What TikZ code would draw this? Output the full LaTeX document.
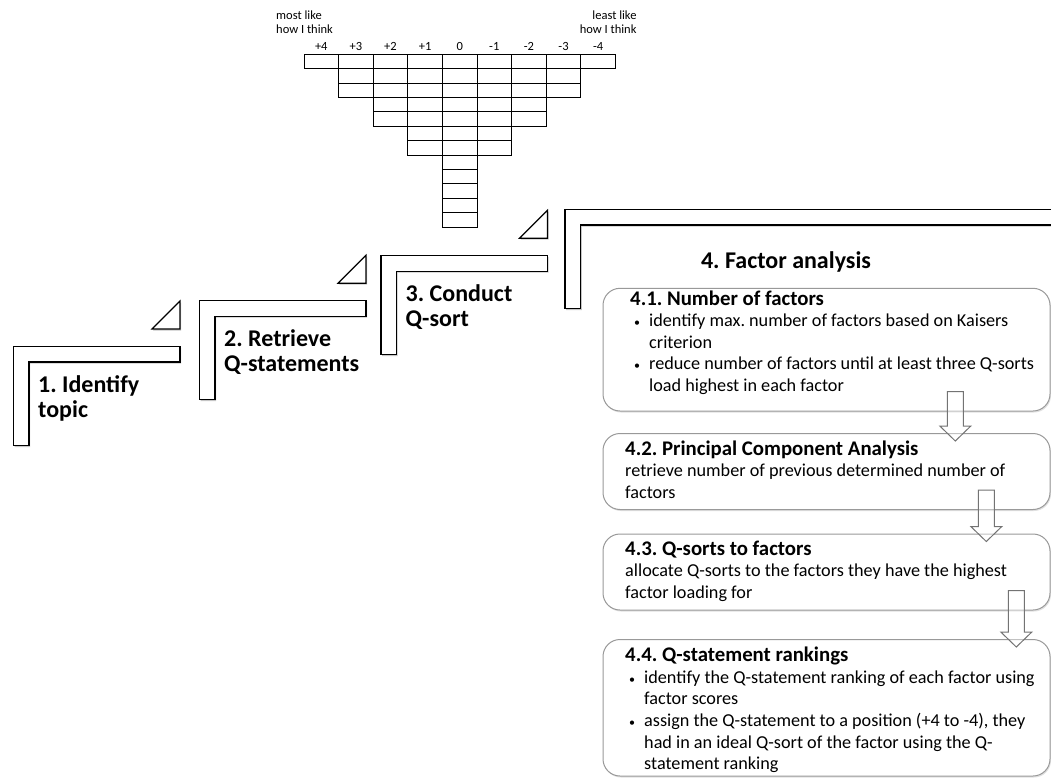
\documentclass[tikz,border=0pt]{standalone}
\usepackage{fontspec}
\setmainfont{Carlito}
\usepackage{tikz}
\usetikzlibrary{calc, fit, shadows}
\frenchspacing
\tikzset{
x=1pt, y=-1pt, % pixel-like units, y grows downwards
lshape/.style={draw, line width=1.2pt, fill=white, drop shadow={shadow xshift=1.2pt, shadow yshift=-1.5pt, fill=black!45, opacity=.5}}, % the stair steps
steptext/.style={anchor=base west, inner sep=0pt, text width=170pt, align=flush left, font=\fontsize{24}{25.5}\selectfont\bfseries}, % step labels
cell/.style={draw, line width=0.9pt}, % one slot of the Q-sort grid
sortlabel/.style={inner sep=0pt, font=\fontsize{12.5}{14}\selectfont}, % grid labels
qbox/.style={draw=black!40, line width=1pt, rounded corners=17pt, inner sep=0pt, fill=white, drop shadow={shadow xshift=1pt, shadow yshift=-1.5pt, fill=black!30, opacity=.4}}, % sub-step boxes
boxtext/.style={anchor=base west, inner sep=0pt, text width=440pt, align=flush left, font=\fontsize{18.2}{21.6}\selectfont}, % text inside the boxes
qarrow/.style={draw=black!55, line width=1pt, fill=white, fill opacity=.4}, % block arrows between boxes
}
\newcommand{\qtitle}[1]{{\fontsize{20.8}{21.6}\selectfont\bfseries #1}}
\newcommand{\qbullet}{\makebox[19pt][l]{\hspace{4pt}{\fontsize{12}{12}\selectfont\textbullet}}}
\newcommand{\qindent}{\hspace*{19pt}}
% block arrow: x position, from box, to box
\newcommand{\qarrowdraw}[3]{%
  \coordinate (ax) at (#1,0);
  \draw[qarrow] let \p1=($(#2.south -| ax)+(0,-20)$), \p2=($(#3.north -| ax)+(0,8)$) in
    (\x1-8pt,\y1) -- (\x1+8pt,\y1) -- (\x1+8pt,\y2+15pt) -- (\x1+15.5pt,\y2+15pt)
    -- (\x2,\y2) -- (\x1-15.5pt,\y2+15pt) -- (\x1-8pt,\y2+15pt) -- cycle;}

\begin{document}
\begin{tikzpicture}
    \clip (0,0) rectangle (1051,778);

    % Q-sort grid
    \node[sortlabel, anchor=base west, text width=70pt, align=flush left] (most) at (276,19.3) {most like\\how I think};
    \node[sortlabel, anchor=base east, text width=70pt, align=flush right] (least) at (636.7,19.3) {least like\\how I think};
    \foreach \c/\n/\lab in {0/1/+4, 1/3/+3, 2/5/+2, 3/7/+1, 4/12/0, 5/7/-1, 6/5/-2, 7/3/-3, 8/1/-4} {
        \node[sortlabel, anchor=base] (col\c) at (321.3+34.6*\c,51) {\lab};
        \foreach \r in {1,...,\n}
            \draw[cell] (304+34.6*\c,39.9+14.4*\r) rectangle ++(34.6,14.4);
    }

    % stairs
    \foreach \n/\x/\y/\txt in {1/13.5/346.5/{1. Identify\\topic}, 2/199.5/300.7/{2. Retrieve\\Q-statements}, 3/381/255.7/{3. Conduct\\Q-sort}} {
        \draw[lshape] (\x,\y) -- ++(166.5,0) -- ++(0,15.5) -- ++(-151,0) -- ++(0,83.5) -- ++(-15.5,0) -- cycle;
        \draw[lshape] (\x+138.5,\y-17.5) -- ++(28,0) -- ++(0,-28) -- cycle;
        \node[steptext] (step\n) at (\x+24.5,\y+45.5) {\txt};
    }
    \draw[lshape] (565,209.3) -- (1070,209.3) -- (1070,225) -- (580.7,225) -- (580.7,308.5) -- (565,308.5) -- cycle;
    \node[inner sep=0pt, anchor=base, font=\fontsize{24}{25.5}\selectfont\bfseries] (step4) at (786,268) {4. Factor analysis};

    % sub-steps of the factor analysis
    \node[qbox, fit={(603,288.3) (1050,411)}] (b41) {};
    \node[qbox, fit={(603,433.5) (1050,509.5)}] (b42) {};
    \node[qbox, fit={(603,534) (1050,610)}] (b43) {};
    \node[qbox, fit={(603,639.5) (1050,776)}] (b44) {};

    \node[boxtext] (t41) at (630,305) {\qtitle{4.1. Number of factors}\\
        \qbullet identify max. number of factors based on Kaisers\\
        \qindent criterion\\
        \qbullet reduce number of factors until at least three Q-sorts\\
        \qindent load highest in each factor};
    \node[boxtext] (t42) at (625,455) {\qtitle{4.2. Principal Component Analysis}\\
        retrieve number of previous determined number of\\
        factors};
    \node[boxtext] (t43) at (625,555) {\qtitle{4.3. Q-sorts to factors}\\
        allocate Q-sorts to the factors they have the highest\\
        factor loading for};
    \node[boxtext] (t44) at (625,661.7) {\qtitle{4.4. Q-statement rankings}\\
        \qbullet identify the Q-statement ranking of each factor using\\
        \qindent factor scores\\
        \qbullet assign the Q-statement to a position (+4 to -4), they\\
        \qindent had in an ideal Q-sort of the factor using the Q-\\
        \qindent statement ranking};

    \qarrowdraw{955.3}{b41}{b42}
    \qarrowdraw{986.3}{b42}{b43}
    \qarrowdraw{1016.3}{b43}{b44}
\end{tikzpicture}
\end{document}
